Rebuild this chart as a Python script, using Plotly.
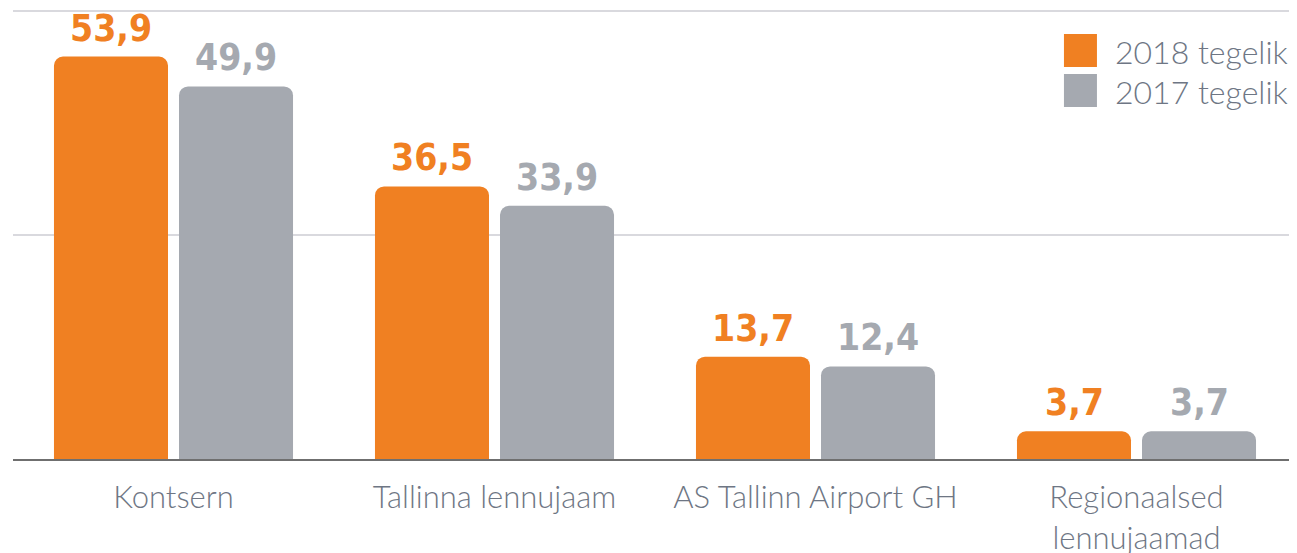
import plotly.graph_objects as go

# Andmed
kategooriad = ["Kontsern", "Tallinna lennujaam", "AS Tallinn Airport GH", "Regionaalsed<br>lennujaamad"]
tegelik_2018 = [53.9, 36.5, 13.7, 3.7]
tegelik_2017 = [49.9, 33.9, 12.4, 3.7]
seeria_nimed = ["2018 tegelik", "2017 tegelik"]

ORANZ = "#F08022"
HALL = "#A5A9B0"
TEKST = "#6E7684"


def fmt(v):
    return f"{v:.1f}".replace(".", ",")


fig = go.Figure()

for nimi, vaartused, varv in [
    (seeria_nimed[0], tegelik_2018, ORANZ),
    (seeria_nimed[1], tegelik_2017, HALL),
]:
    fig.add_trace(
        go.Bar(
            x=kategooriad,
            y=vaartused,
            name=nimi,
            marker=dict(color=varv, cornerradius=9, line=dict(width=0)),
            showlegend=False,
        )
    )

# Väärtuste sildid ribade kohal
for vaartused, varv, nihe in [(tegelik_2018, ORANZ, -62.5), (tegelik_2017, HALL, 62.5)]:
    for kat, v in zip(kategooriad, vaartused):
        fig.add_annotation(
            x=kat, y=v, xref="x", yref="y",
            text=f"<b>{fmt(v)}</b>",
            showarrow=False,
            xshift=nihe, yshift=5, yanchor="bottom",
            font=dict(family="DejaVu Sans Condensed", size=37, color=varv),
        )

# Käsitsi legend (suured ruudud), paberi koordinaadid
Y_MAX = 60.4
def py(px):
    # piksli rida -> paberi y (joonise ala 8..459)
    return (459 - px) / (459 - 8)

legendi_read = [(seeria_nimed[0], ORANZ, 34, 67), (seeria_nimed[1], HALL, 74, 107)]
for nimi, varv, ylem, alum in legendi_read:
    fig.add_shape(type="rect", xref="paper", yref="paper",
                  x0=0.8185, x1=0.8442, y0=py(alum), y1=py(ylem),
                  fillcolor=varv, opacity=1, layer="above", line=dict(width=0))
    fig.add_annotation(x=0.8565, y=py((ylem + alum) / 2 + 1), xref="paper", yref="paper",
                       text=nimi, showarrow=False, xanchor="left", yanchor="middle",
                       font=dict(family="Lato", size=32, color=TEKST, weight=300))

# lehe body-l on 8px veeris, seega joonis on 8px väiksem
fig.update_layout(
    barmode="group",
    bargap=0.221,
    bargroupgap=0.088,
    template="simple_white",
    width=1289,
    height=545,
    margin=dict(l=5, r=0, t=0, b=94, autoexpand=False),
    plot_bgcolor="white",
    paper_bgcolor="white",
    xaxis=dict(
        showline=True,
        linecolor="#6F6F6F",
        linewidth=2,
        ticks="",
        automargin=False,
        ticklabelstandoff=10,
        tickfont=dict(family="Lato", size=31, color=TEKST, weight=300),
    ),
    yaxis=dict(
        range=[0, Y_MAX],
        tickvals=[0, 30, 60],
        showgrid=True,
        gridcolor="#D9D9DE",
        gridwidth=2,
        showline=False,
        ticks="",
        showticklabels=False,
        zeroline=False,
        automargin=False,
    ),
)

fig.write_html("out.html")
